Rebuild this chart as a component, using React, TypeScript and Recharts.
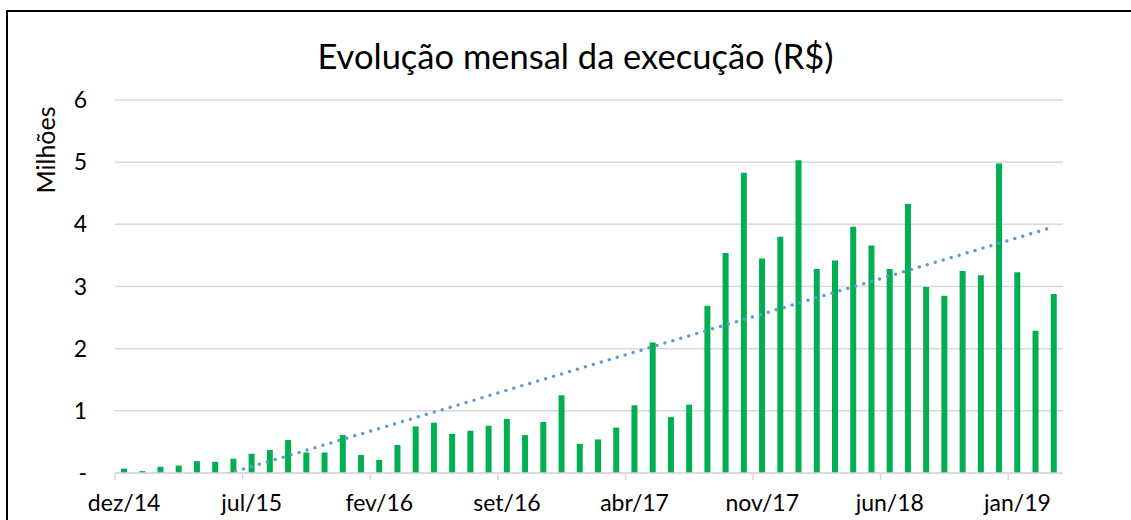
import { Bar, BarChart, CartesianGrid, ReferenceLine, XAxis, YAxis } from "recharts";

const months = [
  "dez/14", "jan/15", "fev/15", "mar/15", "abr/15", "mai/15", "jun/15", "jul/15",
  "ago/15", "set/15", "out/15", "nov/15", "dez/15", "jan/16", "fev/16", "mar/16",
  "abr/16", "mai/16", "jun/16", "jul/16", "ago/16", "set/16", "out/16", "nov/16",
  "dez/16", "jan/17", "fev/17", "mar/17", "abr/17", "mai/17", "jun/17", "jul/17",
  "ago/17", "set/17", "out/17", "nov/17", "dez/17", "jan/18", "fev/18", "mar/18",
  "abr/18", "mai/18", "jun/18", "jul/18", "ago/18", "set/18", "out/18", "nov/18",
  "dez/18", "jan/19", "fev/19", "mar/19"
];

// execução mensal, em milhões de R$
const execucao = [
  0.07, 0.03, 0.1, 0.12, 0.19, 0.18, 0.23, 0.31,
  0.37, 0.53, 0.33, 0.33, 0.61, 0.29, 0.21, 0.45,
  0.75, 0.81, 0.63, 0.68, 0.76, 0.87, 0.61, 0.82,
  1.25, 0.47, 0.54, 0.73, 1.09, 2.1, 0.9, 1.1,
  2.69, 3.54, 4.83, 3.45, 3.8, 5.03, 3.28, 3.42,
  3.96, 3.66, 3.28, 4.33, 2.99, 2.85, 3.25, 3.18,
  4.98, 3.23, 2.29, 2.88
];

// linha de tendência (linear), extremos
const trendStart = -0.51;
const trendEnd = 3.96;

const yTicks = [0, 1, 2, 3, 4, 5, 6];

const data = months.map((m, i) => ({ month: m, valor: execucao[i] }));

const FONT = "Lato, 'Open Sans', sans-serif";
const PLOT_LEFT = 115;
const PLOT_RIGHT = 1063;
const BAND = (PLOT_RIGHT - PLOT_LEFT) / months.length;

const MonthTick = (props: any) => {
  const { x, y, payload } = props;
  const edge = x - BAND / 2;
  return (
    <g>
      <line x1={edge} x2={edge} y1={y} y2={y + 7} stroke="#D9D9D9" strokeWidth={1.5} />
      <text x={x} y={y + 38} textAnchor="middle" fontSize={23} fontFamily={FONT} fill="#000">
        {payload.value}
      </text>
    </g>
  );
};

export default function App() {
  return (
    <div style={{ position: "absolute", left: 0, top: 0, width: 1131, height: 520, overflow: "hidden", background: "#fff" }}>
      <div
        style={{
          position: "absolute",
          left: 6,
          top: 10,
          width: 1160,
          height: 560,
          border: "2px solid #000"
        }}
      />
      <div
        style={{
          position: "absolute",
          left: 0,
          top: 35,
          width: 1151,
          textAlign: "center",
          fontFamily: FONT,
          fontSize: 34.5,
          color: "#000",
          lineHeight: "42px"
        }}
      >
        Evolução mensal da execução (R$)
      </div>
      <div
        style={{
          position: "absolute",
          left: 45,
          top: 150,
          transform: "translate(-50%, -50%) rotate(-90deg)",
          fontFamily: FONT,
          fontSize: 25,
          color: "#000",
          whiteSpace: "nowrap"
        }}
      >
        Milhões
      </div>
      <div style={{ position: "absolute", left: 0, top: 0 }}>
        <BarChart
          width={1131}
          height={520}
          data={data}
          margin={{ top: 100, right: 1131 - PLOT_RIGHT, bottom: 0, left: 0 }}
          barCategoryGap={0}
        >
          <CartesianGrid vertical={false} stroke="#D9D9D9" strokeWidth={1.5} />
          <XAxis
            dataKey="month"
            interval={6}
            height={47}
            tickSize={0}
            tickMargin={0}
            tickLine={false}
            axisLine={{ stroke: "#D9D9D9", strokeWidth: 1.5 }}
            tick={<MonthTick />}
          />
          <YAxis
            width={PLOT_LEFT}
            domain={[0, 6]}
            ticks={yTicks}
            allowDataOverflow
            axisLine={false}
            tickLine={false}
            tickSize={0}
            tickMargin={28}
            tickFormatter={(v: number) => (v === 0 ? "-" : String(v))}
            tick={{ fontSize: 23, fontFamily: FONT, fill: "#000" }}
          />
          <Bar dataKey="valor" fill="#00B050" barSize={6} isAnimationActive={false} />
          <ReferenceLine
            segment={[
              { x: months[0], y: trendStart },
              { x: months[months.length - 1], y: trendEnd }
            ]}
            ifOverflow="hidden"
            stroke="#5B9BD5"
            strokeWidth={3.5}
            strokeDasharray="0 8.3"
            strokeLinecap="round"
          />
        </BarChart>
      </div>
    </div>
  );
}
